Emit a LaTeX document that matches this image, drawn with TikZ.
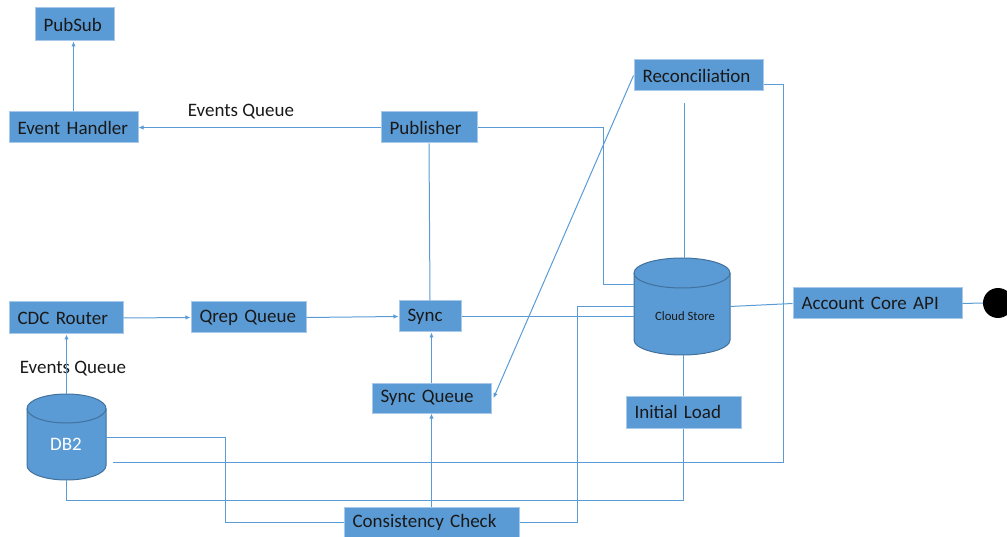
\documentclass[tikz,border=0pt]{standalone}
\usepackage{fontspec}
\setmainfont{Carlito}
\usetikzlibrary{arrows.meta}
\definecolor{fillblue}{HTML}{5B9BD5}
\definecolor{edgeblue}{HTML}{A9C9EA}
\definecolor{lineblue}{HTML}{5B9BD5}
\definecolor{cyledge}{HTML}{41719C}
\newcommand\drawcyl[5]{% cx, ytop, ybottom, rx, ry
  \filldraw[fill=fillblue, draw=cyledge, line width=1pt]
    (#1-#4,#2+#5) -- (#1-#4,#3-#5)
    arc[start angle=180,end angle=360,x radius=#4pt,y radius=#5pt]
    -- (#1+#4,#2+#5)
    arc[start angle=0,end angle=180,x radius=#4pt,y radius=#5pt] -- cycle;
  \draw[cyledge, line width=1pt] (#1-#4,#2+#5)
    arc[start angle=180,end angle=360,x radius=#4pt,y radius=#5pt];}
\begin{document}
\begin{tikzpicture}[x=1pt,y=-1pt,
  box/.style={draw=edgeblue, line width=1pt, fill=fillblue, inner xsep=8.5pt,
    inner ysep=0pt, align=left, font=\fontsize{19}{22}\selectfont, text=black!90},
  conn/.style={draw=lineblue, line width=1pt},
  arr/.style={conn, -{Latex[length=5pt,width=4.5pt]}},
  lbl/.style={font=\fontsize{19}{22}\selectfont, inner sep=0pt, text=black!90},
  shapeonly/.style={inner sep=0pt, outer sep=0pt}]
\useasboundingbox (0,0) rectangle (1007,537);

% boxes
\node[box, text width=62pt, minimum height=33pt] (ps) at (74.5,24.5) {PubSub};
\node[box, text width=112pt, minimum height=31pt] (eh) at (73.5,127.5) {Event Handler};
\node[box, text width=79pt, minimum height=31pt] (pub) at (429,127.5) {Publisher};
\node[box, text width=112pt, minimum height=31pt] (rec) at (698.5,75.5) {Reconciliation};
\node[box, text width=152pt, minimum height=31pt] (acc) at (877.5,303.5) {Account Core API};
\node[box, text width=97pt, minimum height=32pt] (cdc) at (66,318) {CDC Router};
\node[box, text width=98pt, minimum height=31pt] (qrep) at (248.5,317.5) {Qrep Queue};
\node[box, text width=45pt, minimum height=31pt] (sync) at (430,316.5) {Sync};
\node[box, text width=102pt, minimum height=30pt] (sq) at (431.5,398) {Sync Queue};
\node[box, text width=98pt, minimum height=32pt] (il) at (683.5,412) {Initial Load};
\node[box, text width=158pt, minimum height=30pt] (cc) at (431.5,522) {Consistency Check};

% cylinders
\drawcyl{682}{258}{355}{48}{15}
\node[shapeonly, minimum width=96pt, minimum height=97pt] (cs) at (682,306.5) {};
\node[font=\fontsize{12.7}{15}\selectfont, inner sep=0pt, text=black!90] (cstext) at (685,316) {Cloud Store};
\drawcyl{66.5}{394}{480}{39.5}{14.5}
\node[shapeonly, minimum width=79pt, minimum height=86pt] (db2) at (66.5,437) {};
\node[lbl, text=white] (db2text) at (66,444) {DB2};

% end dot
\node[circle, fill=black, minimum size=30pt, inner sep=0pt] (dot) at (998,303) {};

% labels
\node[lbl] (eq1) at (241,112) {Events Queue};
\node[lbl] (eq2) at (73,369) {Events Queue};

% free ends
\coordinate (rectail) at (684,103);
\coordinate (dbgap) at (113,462);

% connectors
\draw[arr] (eh.north) -- (eh.north |- ps.south);
\draw[arr] (pub.west) -- (eh.east);
\draw[conn] (pub.east) -- (603,127.5) -- (603,285) -- (cs.west |- 0,285);
\draw[conn] (pub.south) -- (sync.north);
\draw[conn] ([yshift=-9.5pt]rec.east) -- (783,85) -- (783,462) -- (dbgap);
\draw[conn] (rectail) -- (rectail |- cs.north);
\draw[arr] (rec.west) -- ([xshift=2pt]sq.east);
\draw[conn] (cs.east) -- (acc.west);
\draw[conn] (acc.east) -- (dot.west);
\draw[arr] (cdc.east) -- (qrep.west);
\draw[arr] (qrep.east) -- (sync.west);
\draw[conn] (sync.east) -- (cs.west |- sync.east);
\draw[conn] (cc.east) -- (577,522) -- (577,306.5) -- (cs.west);
\draw[conn] (il.north |- cs.south) -- (il.north);
\draw[arr] (db2.north) -- (db2.north |- cdc.south);
\draw[conn] (db2.east) -- (225,437) |- (cc.west);
\draw[conn] (db2.south) -- (db2.south |- 0,500) -| (il.south);
\draw[arr] (sq.north) -- (sq.north |- sync.south);
\draw[arr] (cc.north) -- (sq.south);
\end{tikzpicture}
\end{document}
